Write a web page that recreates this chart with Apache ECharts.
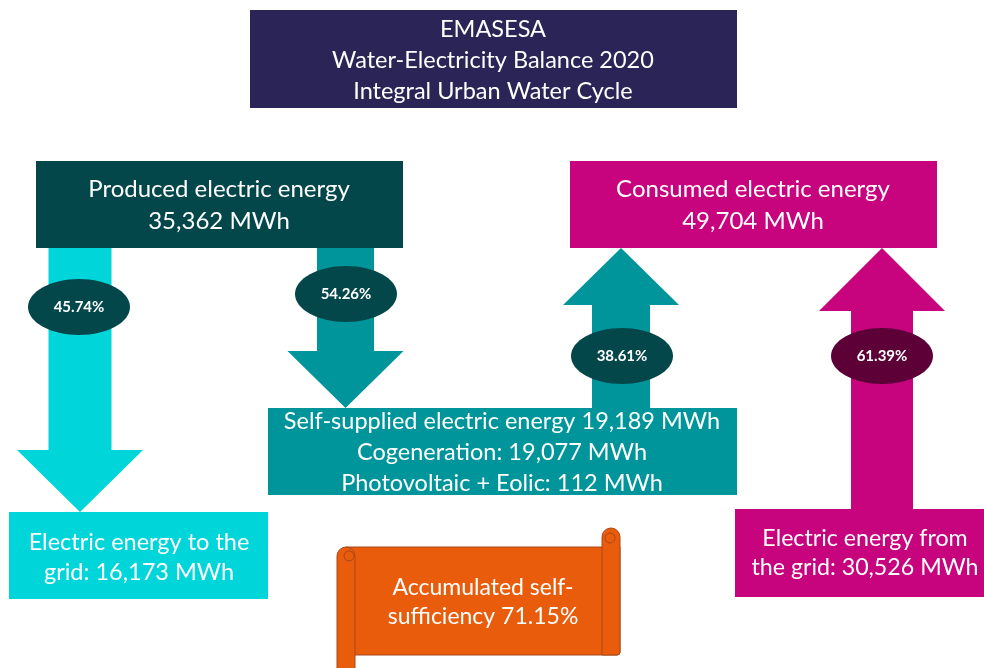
<!DOCTYPE html>
<html>
<head>
<meta charset="utf-8">
<script src="https://cdn.jsdelivr.net/npm/echarts@6/dist/echarts.min.js"></script>
<style>
html,body{margin:0;padding:0;background:#fff;}
#chart{width:984px;height:668px;}
</style>
</head>
<body>
<div id="chart"></div>
<script>
// ---- data ----
const titleLines = ['EMASESA', 'Water-Electricity Balance 2020', 'Integral Urban Water Cycle'];
const nodeNames = ['Produced electric energy', 'Consumed electric energy', 'Self-supplied electric energy', 'Electric energy to the grid', 'Electric energy from the grid'];
const nodeValues = [35362, 49704, 19189, 16173, 30526];
const selfSupplyParts = ['Cogeneration', 'Photovoltaic + Eolic'];
const selfSupplyValues = [19077, 112];
const flowShares = [45.74, 54.26, 38.61, 61.39]; // produced->grid, produced->self, self->consumed, grid->consumed
const selfSufficiency = [71.15];
const unit = 'MWh';

// ---- helpers ----
function fmt(v) { return String(v).replace(/\B(?=(\d{3})+(?!\d))/g, ','); }
function pct(v) { return v.toFixed(2) + '%'; }

const FONT = 'Lato, "Open Sans", sans-serif';
const C = {
  title: '#2b2457', dark: '#03474b', cyan: '#00d5da', teal: '#00959a',
  mag: '#c7037e', darkMag: '#5e0038', orange: '#e85c0c', orangeEdge: '#a9481a'
};

function rect(x, y, w, h, fill, extra) {
  return Object.assign({ type: 'rect', shape: { x: x, y: y, width: w, height: h }, style: { fill: fill } }, extra || {});
}
function poly(points, fill) {
  return { type: 'polygon', shape: { points: points }, style: { fill: fill } };
}
// vertical arrow: cx center, shaft half width sw, head half width hw, from y0 (tail) to y1 (tip), head length hl
function arrow(cx, sw, hw, y0, y1, hl, fill) {
  const d = y1 > y0 ? 1 : -1;
  const yb = y1 - d * hl;
  return poly([[cx - sw, y0], [cx + sw, y0], [cx + sw, yb], [cx + hw, yb], [cx, y1], [cx - hw, yb], [cx - sw, yb]], fill);
}
function txt(s, x, y, size, opts) {
  opts = opts || {};
  return {
    type: 'text', z: 10,
    style: {
      text: s, x: x, y: y, fill: opts.fill || '#fff',
      font: (opts.weight || 'normal') + ' ' + size + 'px ' + FONT,
      textAlign: 'center', textVerticalAlign: 'middle',
      lineHeight: opts.lh || Math.round(size * 1.35)
    }
  };
}
function ell(cx, cy, fill, label) {
  return [
    { type: 'ellipse', z: 5, shape: { cx: cx, cy: cy, rx: 51, ry: 28 }, style: { fill: fill } },
    txt(label, cx, cy, 15, { weight: 'bold' })
  ];
}

const els = [];
// arrows
els.push(arrow(80, 31.5, 63, 248, 512, 62, C.cyan));
els.push(arrow(345.5, 28.5, 58, 248, 408, 57, C.teal));
els.push(arrow(621, 29, 58, 408, 248, 57, C.teal));
els.push(arrow(882, 31, 63, 509, 248, 63, C.mag));

// boxes
els.push(rect(250, 10, 487, 98, C.title));
els.push(rect(36, 161, 367, 87, C.dark));
els.push(rect(570, 161, 367, 87, C.mag));
els.push(rect(268, 408, 469, 87, C.teal));
els.push(rect(9, 512, 259, 87, C.cyan));
els.push(rect(735, 509, 260, 88, C.mag));

// scroll
const edge = { stroke: C.orangeEdge, lineWidth: 1 };
els.push({ type: 'rect', shape: { x: 346, y: 547, width: 274, height: 108, r: [0, 0, 3, 0] }, style: Object.assign({ fill: C.orange }, edge) });
els.push({ type: 'rect', shape: { x: 602, y: 528, width: 18, height: 127, r: [9, 9, 3, 0] }, style: Object.assign({ fill: C.orange }, edge) });
els.push({ type: 'circle', shape: { cx: 610, cy: 538, r: 5 }, style: Object.assign({ fill: C.orange }, edge) });
els.push({ type: 'rect', shape: { x: 337, y: 547, width: 18, height: 130, r: [9, 9, 0, 0] }, style: Object.assign({ fill: C.orange }, edge) });
els.push({ type: 'circle', shape: { cx: 349, cy: 556, r: 5 }, style: Object.assign({ fill: C.orange }, edge) });

// ellipses
els.push.apply(els, ell(79, 307, C.dark, pct(flowShares[0])));
els.push.apply(els, ell(346, 294, C.dark, pct(flowShares[1])));
els.push.apply(els, ell(622, 356, C.dark, pct(flowShares[2])));
els.push.apply(els, ell(882, 356, C.darkMag, pct(flowShares[3])));

// texts
els.push(txt(titleLines.join('\n'), 493, 60, 23.5, { lh: 31 }));
els.push(txt(nodeNames[0] + '\n' + fmt(nodeValues[0]) + ' ' + unit, 219, 205, 24, { lh: 32 }));
els.push(txt(nodeNames[1] + '\n' + fmt(nodeValues[1]) + ' ' + unit, 753, 205, 24, { lh: 32 }));
els.push(txt(
  nodeNames[2] + ' ' + fmt(nodeValues[2]) + ' ' + unit + '\n' +
  selfSupplyParts[0] + ': ' + fmt(selfSupplyValues[0]) + ' ' + unit + '\n' +
  selfSupplyParts[1] + ': ' + fmt(selfSupplyValues[1]) + ' ' + unit, 502, 452, 23.5, { lh: 31 }));
els.push(txt('Electric energy to the\ngrid: ' + fmt(nodeValues[3]) + ' ' + unit, 139, 557, 23.5, { lh: 30 }));
els.push(txt('Electric energy from\nthe grid: ' + fmt(nodeValues[4]) + ' ' + unit, 865, 553.5, 23.2, { lh: 29 }));
els.push(txt('Accumulated self-\nsufficiency ' + pct(selfSufficiency[0]), 483, 602.5, 23, { lh: 29 }));

const chart = echarts.init(document.getElementById('chart'), null, { renderer: 'canvas' });
chart.setOption({ backgroundColor: '#fff', animation: false, graphic: { elements: els } });
</script>
</body>
</html>
